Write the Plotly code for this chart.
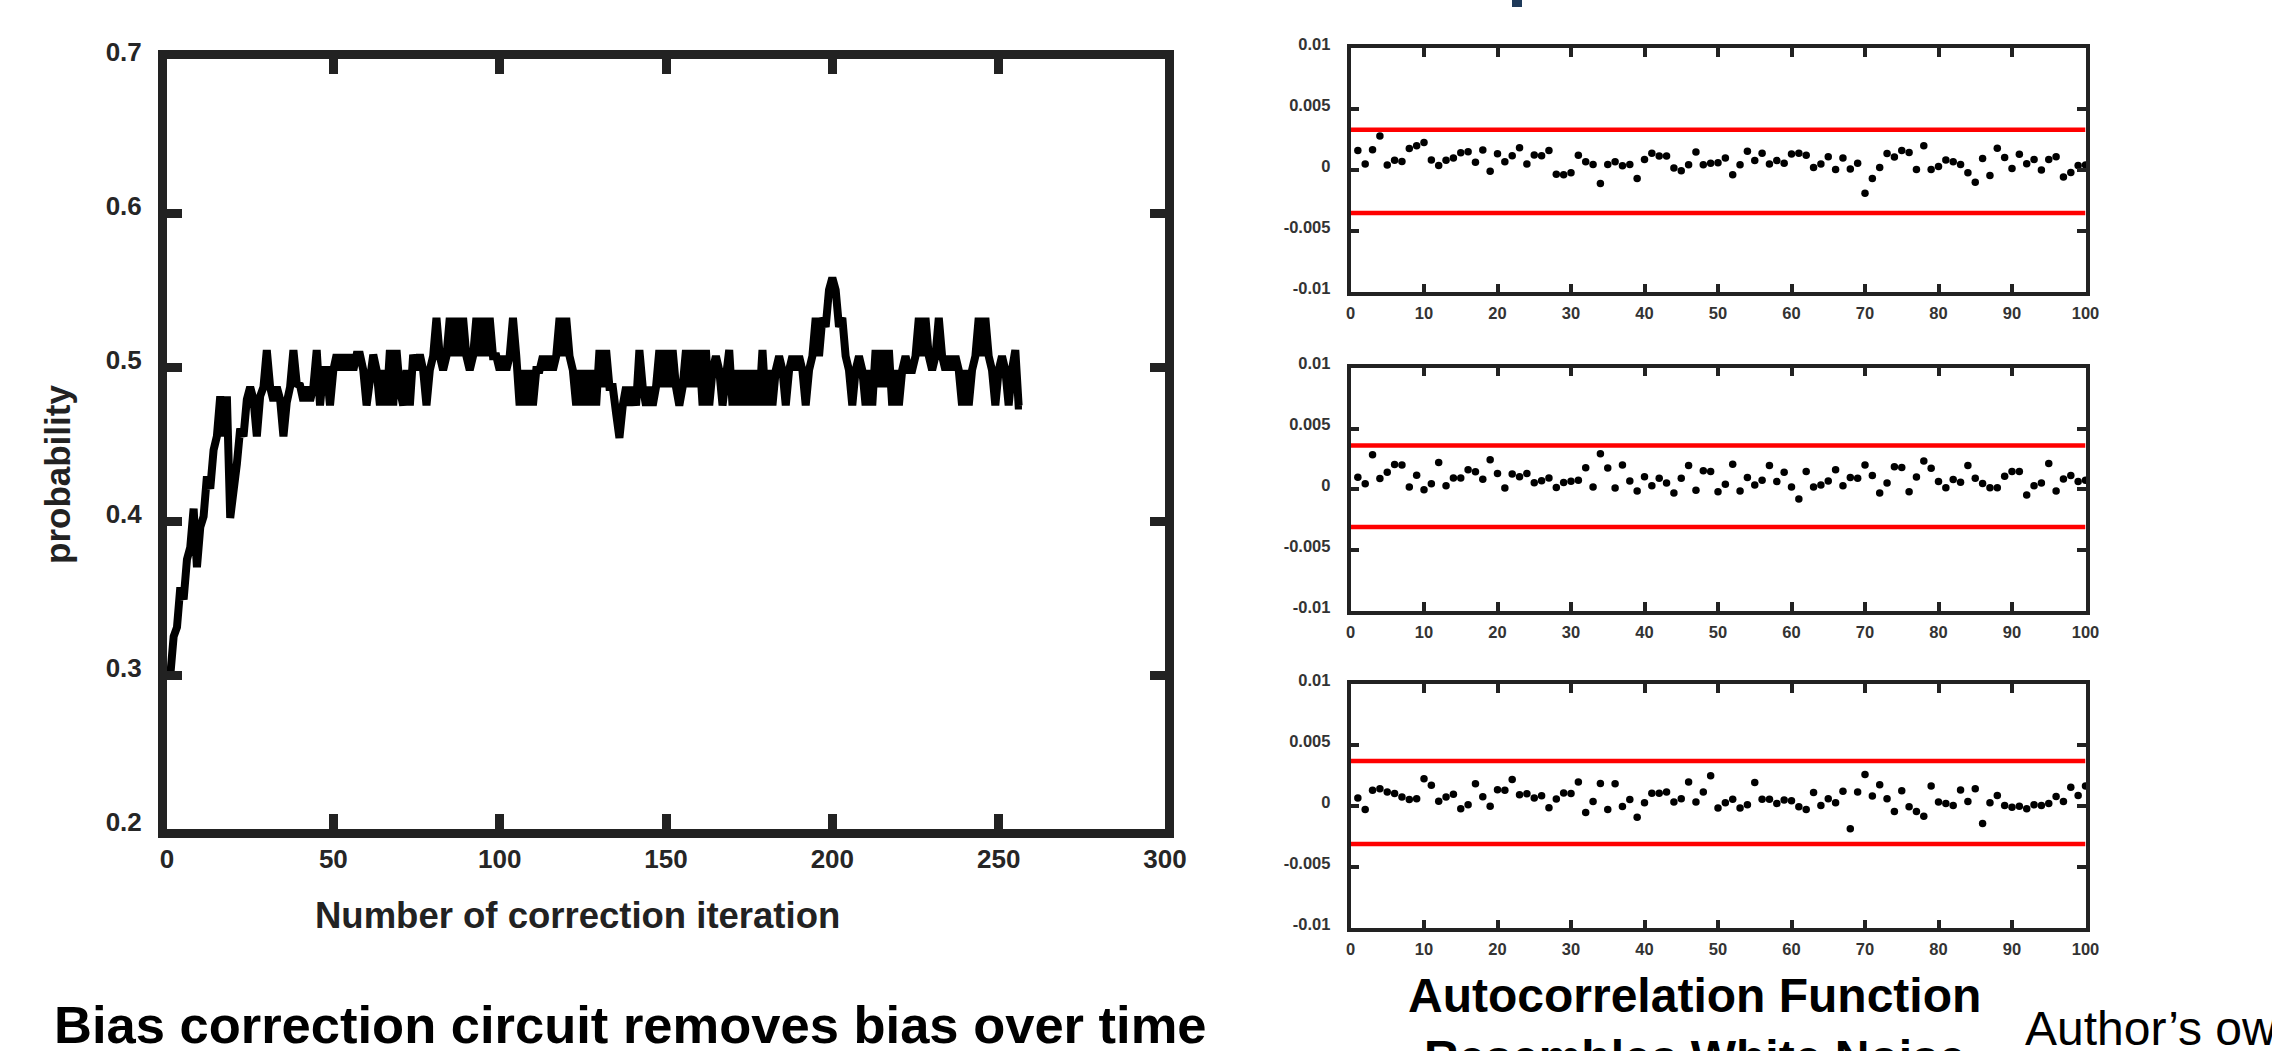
import plotly.graph_objects as go

W, H = 2272, 1051

# ---------------- data ----------------
iterations = list(range(1, 258))
probability = [
    0.300, 0.325, 0.331, 0.357, 0.349, 0.375, 0.383, 0.408, 0.370, 0.396,
    0.403, 0.429, 0.421, 0.446, 0.455, 0.481, 0.455, 0.481, 0.402, 0.427,
    0.437, 0.460, 0.455, 0.479, 0.487, 0.479, 0.455, 0.481, 0.487, 0.511,
    0.487, 0.478, 0.487, 0.479, 0.455, 0.477, 0.487, 0.511, 0.489, 0.488,
    0.478, 0.487, 0.478, 0.487, 0.511, 0.475, 0.498, 0.498, 0.475, 0.498,
    0.508, 0.498, 0.508, 0.498, 0.508, 0.498, 0.508, 0.508, 0.498, 0.475,
    0.498, 0.508, 0.498, 0.475, 0.498, 0.475, 0.511, 0.475, 0.511, 0.485,
    0.475, 0.498, 0.475, 0.508, 0.498, 0.508, 0.498, 0.475, 0.498, 0.507,
    0.532, 0.507, 0.498, 0.507, 0.532, 0.507, 0.532, 0.507, 0.532, 0.507,
    0.498, 0.507, 0.532, 0.507, 0.532, 0.507, 0.532, 0.507, 0.507, 0.498,
    0.507, 0.498, 0.507, 0.532, 0.507, 0.475, 0.498, 0.475, 0.498, 0.475,
    0.498, 0.498, 0.507, 0.498, 0.507, 0.498, 0.507, 0.532, 0.507, 0.532,
    0.507, 0.498, 0.475, 0.498, 0.475, 0.498, 0.475, 0.498, 0.475, 0.511,
    0.487, 0.511, 0.487, 0.487, 0.470, 0.454, 0.475, 0.487, 0.475, 0.487,
    0.475, 0.511, 0.487, 0.475, 0.487, 0.475, 0.487, 0.511, 0.487, 0.511,
    0.487, 0.511, 0.487, 0.475, 0.487, 0.511, 0.487, 0.511, 0.487, 0.511,
    0.475, 0.511, 0.475, 0.498, 0.507, 0.498, 0.475, 0.498, 0.511, 0.475,
    0.498, 0.475, 0.498, 0.475, 0.498, 0.475, 0.498, 0.475, 0.511, 0.475,
    0.498, 0.475, 0.498, 0.507, 0.498, 0.475, 0.498, 0.507, 0.498, 0.507,
    0.498, 0.475, 0.498, 0.507, 0.532, 0.507, 0.532, 0.526, 0.550, 0.558,
    0.550, 0.526, 0.532, 0.507, 0.498, 0.475, 0.498, 0.507, 0.498, 0.475,
    0.498, 0.475, 0.511, 0.487, 0.511, 0.487, 0.511, 0.475, 0.498, 0.475,
    0.498, 0.507, 0.498, 0.498, 0.507, 0.532, 0.507, 0.532, 0.507, 0.498,
    0.507, 0.532, 0.507, 0.498, 0.507, 0.498, 0.507, 0.498, 0.475, 0.498,
    0.475, 0.498, 0.507, 0.532, 0.507, 0.532, 0.507, 0.498, 0.475, 0.498,
    0.507, 0.498, 0.475, 0.498, 0.511, 0.475, 0.475,
]

lags = list(range(1, 101))
acf_1 = [
    0.0016, 0.0005, 0.00166, 0.0028, 0.00043, 0.00082, 0.0007, 0.00177, 0.002, 0.00226,
    0.00084, 0.00038, 0.00082, 0.001, 0.00142, 0.0015, 0.00065, 0.00164, -0.00008, 0.00134,
    0.00068, 0.00117, 0.00183, 0.0005, 0.00125, 0.00117, 0.0016, -0.00033, -0.00038, -0.00022,
    0.00123, 0.00068, 0.00046, -0.0011, 0.00046, 0.00068, 0.00035, 0.00046, -0.00069, 0.00087,
    0.00138, 0.00116, 0.00116, 0.00017, -0.00005, 0.00044, 0.00149, 0.00044, 0.00056, 0.0006,
    0.001, -0.00038, 0.00044, 0.00155, 0.00078, 0.00138, 0.0005, 0.00078, 0.00056, 0.00132,
    0.00138, 0.00121, 0.00022, 0.0005, 0.0011, 0.00006, 0.001, 0.0001, 0.00057, -0.0019,
    -0.00069, 0.00021, 0.00136, 0.00107, 0.0016, 0.00144, 0.00005, 0.002, 0.00006, 0.0003,
    0.00084, 0.00068, 0.00046, -0.00022, -0.001, 0.00095, -0.00044, 0.0018, 0.00103, 0.00013,
    0.00131, 0.00052, 0.00087, 0.00002, 0.00087, 0.00109, -0.00057, -0.0002, 0.00038, 0.00043,
]
acf_2 = [
    0.001, 0.00047, 0.00284, 0.0009, 0.0014, 0.00205, 0.002, 0.00019, 0.00115, -0.00003,
    0.00047, 0.00221, 0.0003, 0.00093, 0.00093, 0.00161, 0.00145, 0.00082, 0.00243, 0.00131,
    0.00011, 0.00126, 0.00104, 0.00131, 0.00055, 0.00071, 0.00093, 0.00016, 0.00057, 0.00066,
    0.00074, 0.00178, 0.00019, 0.00292, 0.00175, 0.00011, 0.002, 0.00068, -0.00014, 0.00104,
    0.0003, 0.00091, 0.00053, -0.0003, 0.00091, 0.00196, -0.00008, 0.00152, 0.00146, -0.00019,
    0.00042, 0.00207, -0.00013, 0.00097, 0.00036, 0.00075, 0.00196, 0.00064, 0.00141, 0.0002,
    -0.0008, 0.00146, 0.0002, 0.00036, 0.00069, 0.00162, 0.0003, 0.00097, 0.00091, 0.00201,
    0.00113, -0.0003, 0.00053, 0.00185, 0.00179, -0.00019, 0.00102, 0.00234, 0.00174, 0.00064,
    0.00014, 0.0008, 0.00058, 0.00196, 0.00091, 0.00048, 0.00014, 0.00014, 0.00107, 0.00146,
    0.00146, -0.00046, 0.0003, 0.00053, 0.00212, -0.00013, 0.00085, 0.00113, 0.00064, 0.00075,
]
acf_3 = [
    0.00066, -0.00027, 0.00131, 0.00142, 0.00115, 0.00104, 0.00074, 0.00055, 0.00061, 0.00224,
    0.00172, 0.00041, 0.00074, 0.00098, -0.00021, 0.00011, 0.00183, 0.00077, 0.0, 0.00134,
    0.00131, 0.00219, 0.00093, 0.00101, 0.00066, 0.00085, -0.00013, 0.00058, 0.00107, 0.00104,
    0.00197, -0.00052, 0.00039, 0.00186, -0.00027, 0.00183, -0.00002, 0.00055, -0.0009, 0.00028,
    0.00105, 0.00105, 0.00116, 0.00034, 0.00061, 0.00198, 0.00034, 0.00116, 0.00248, -0.00016,
    0.00028, 0.00056, -0.00016, 0.00011, 0.00193, 0.00056, 0.00056, 0.00022, 0.0005, 0.00044,
    -0.00005, -0.00027, 0.00111, 0.00006, 0.00061, 0.00028, 0.00121, -0.00186, 0.00116, 0.00259,
    0.00083, 0.00176, 0.00061, -0.00043, 0.00127, -0.00005, -0.00043, -0.00082, 0.00165, 0.00034,
    0.00022, 0.00006, 0.00133, 0.00039, 0.00143, -0.00143, 0.00028, 0.00088, 0.00006, -0.0001,
    0.0, -0.00021, 0.00011, 0.00006, 0.00022, 0.00078, 0.00039, 0.00154, 0.00088, 0.00165,
]
acf_series = [acf_1, acf_2, acf_3]
conf_upper = [0.0033, 0.0036, 0.0037]
conf_lower = [-0.0035, -0.0031, -0.0031]

left_xticks = [0, 50, 100, 150, 200, 250, 300]
left_yticks = [0.2, 0.3, 0.4, 0.5, 0.6, 0.7]
right_xticks = [0, 10, 20, 30, 40, 50, 60, 70, 80, 90, 100]
right_yticks = [-0.01, -0.005, 0, 0.005, 0.01]
right_yticklabels = ["-0.01", "-0.005", "0", "0.005", "0.01"]

# ---------------- layout helpers ----------------
FONT = "Liberation Sans, Arial, Helvetica, sans-serif"
FRAME = "#222222"


def px(x):
    return x / W


def py(y):
    return 1 - y / H


fig = go.Figure()

# left: probability vs iteration
fig.add_trace(go.Scatter(
    x=iterations, y=probability, mode="lines",
    line=dict(color="black", width=8), xaxis="x", yaxis="y",
    showlegend=False, hoverinfo="skip",
))

# right: three autocorrelation panels
for k, series in enumerate(acf_series):
    ax = str(k + 2)
    for bound in (conf_upper[k], conf_lower[k]):
        fig.add_trace(go.Scatter(
            x=[0, 100], y=[bound, bound], mode="lines",
            line=dict(color="#ff0000", width=4.5),
            xaxis="x" + ax, yaxis="y" + ax, showlegend=False, hoverinfo="skip",
        ))
    fig.add_trace(go.Scatter(
        x=lags, y=series, mode="markers",
        marker=dict(color="black", size=7.5),
        xaxis="x" + ax, yaxis="y" + ax, showlegend=False, hoverinfo="skip",
        cliponaxis=False,
    ))

left_common = dict(
    showline=True, linewidth=9, linecolor=FRAME, mirror="ticks",
    ticks="inside", ticklen=15, tickwidth=9, tickcolor=FRAME,
    showgrid=False, zeroline=False, automargin=False,
    tickfont=dict(family=FONT, size=26, color="#262626", weight="bold"),
)
layout = dict(
    width=W, height=H, autosize=False,
    margin=dict(l=0, r=0, t=0, b=0, pad=0),
    paper_bgcolor="white", plot_bgcolor="white",
    xaxis=dict(domain=[px(167), px(1165)], range=[0, 300],
               tickvals=left_xticks, anchor="y", ticklabelstandoff=-1, **left_common),
    yaxis=dict(domain=[py(829), py(59)], range=[0.2, 0.7],
               tickvals=left_yticks, tickformat=".1f", anchor="x",
               ticklabelstandoff=11, ticklabelshift=-7, **left_common),
)

right_common = dict(
    showline=True, linewidth=3.5, linecolor=FRAME, mirror="ticks",
    ticks="inside", ticklen=9, tickwidth=3.5, tickcolor=FRAME,
    showgrid=False, zeroline=False, automargin=False,
    tickfont=dict(family=FONT, size=16.5, color="#333333", weight="bold"),
)
panels = [(48, 292.3), (367.7, 611), (684, 928.3)]
for k, (top, bot) in enumerate(panels):
    ax = str(k + 2)
    layout["xaxis" + ax] = dict(domain=[px(1350.5), px(2085.5)], range=[0, 100],
                                tickvals=right_xticks, anchor="y" + ax,
                                ticklabelstandoff=3, **right_common)
    layout["yaxis" + ax] = dict(domain=[py(bot), py(top)], range=[-0.01, 0.01],
                                tickvals=right_yticks, ticktext=right_yticklabels,
                                anchor="x" + ax, ticklabelstandoff=13,
                                ticklabelshift=-4, **right_common)

fig.update_layout(**layout)

annotations = [
    dict(text="Number of correction iteration", x=px(577), y=py(915),
         font=dict(family=FONT, size=36.5, color="#222222", weight="bold")),
    dict(text="probability", x=px(57), y=py(475), textangle=-90,
         font=dict(family=FONT, size=35, color="#222222", weight="bold")),
    dict(text="Bias correction circuit removes bias over time", x=px(630), y=py(1024),
         font=dict(family=FONT, size=52.5, color="black", weight="bold")),
    dict(text="Autocorrelation Function<br>Resembles White Noise", x=px(1694), y=py(967),
         yanchor="top", font=dict(family=FONT, size=48, color="black", weight="bold")),
    dict(text="Author’s own work", x=px(2023), y=py(1028), xanchor="left",
         font=dict(family=FONT, size=48, color="black")),
]
for a in annotations:
    a.setdefault("xanchor", "center")
    a.setdefault("yanchor", "middle")
    a.update(xref="paper", yref="paper", showarrow=False)
fig.update_layout(annotations=annotations)

# small fragment of a slide title cut off at the top edge
fig.add_shape(type="rect", xref="paper", yref="paper",
              x0=px(1512), x1=px(1522), y0=py(7), y1=py(-2),
              fillcolor="#1f3a5a", line=dict(width=0))

fig.write_html(
    "out.html",
    config={"displayModeBar": False},
    post_script="document.body.style.margin='0px';"
                "document.documentElement.style.overflow='hidden';"
                "document.body.style.overflow='hidden';",
)
